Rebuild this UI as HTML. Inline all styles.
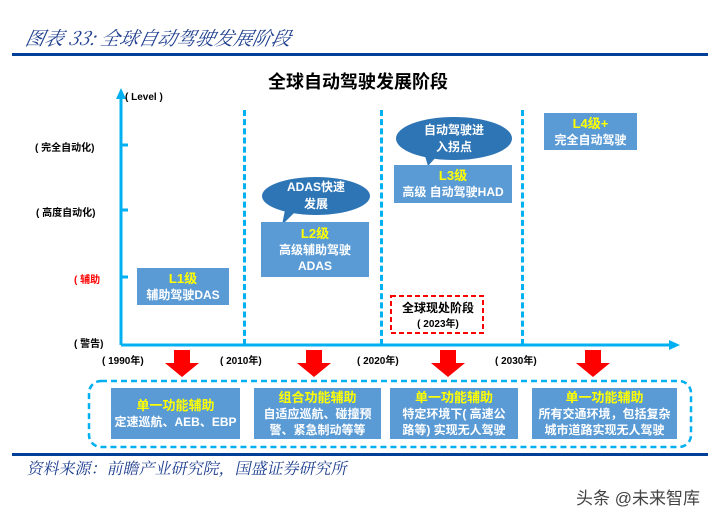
<!DOCTYPE html>
<html><head><meta charset="utf-8"><style>
body{margin:0;width:718px;height:517px;background:#fff;position:relative;overflow:hidden;font-family:"Liberation Sans","Noto Sans CJK SC",sans-serif}
.a{position:absolute}
.box{position:absolute;background:#5b9bd5;color:#fff;text-align:center;font-size:12px;line-height:16px;display:flex;flex-direction:column;justify-content:center;font-weight:bold}
.y{color:#ffff00;font-size:13px}
.lbl{position:absolute;font-size:10px;font-weight:bold;color:#000;white-space:nowrap}
.dash{position:absolute;width:0;border-left:3px dashed #00b0f0;top:110px;height:235px}
.bub{position:absolute;background:#2e75b6;border-radius:50%;color:#fff;font-size:12px;font-weight:bold;text-align:center;display:flex;flex-direction:column;justify-content:center;line-height:17px}
</style></head><body>
<div class="a" style="left:26px;top:24px;font-family:'Noto Serif CJK SC',serif;font-style:italic;font-size:19px;color:#1f3f8f;transform:skewX(-12deg)">图表 33:  全球自动驾驶发展阶段</div>
<div class="a" style="left:12px;top:53px;width:696px;height:3px;background:#003f98"></div>
<div class="a" style="left:268px;top:68px;font-size:18px;font-weight:bold">全球自动驾驶发展阶段</div>

<svg class="a" style="left:0;top:0" width="718" height="517">
<line x1="121" y1="345" x2="121" y2="97" stroke="#00b0f0" stroke-width="3"/>
<polygon points="121,88 116,99 126,99" fill="#00b0f0"/>
<line x1="121" y1="345" x2="672" y2="345" stroke="#00b0f0" stroke-width="3"/>
<polygon points="680,345 669,340 669,350" fill="#00b0f0"/>
<line x1="121" y1="145" x2="128" y2="145" stroke="#00b0f0" stroke-width="3"/>
<line x1="121" y1="210" x2="128" y2="210" stroke="#00b0f0" stroke-width="3"/>
<line x1="121" y1="277" x2="128" y2="277" stroke="#00b0f0" stroke-width="3"/>
<polygon points="285,210 295,212 282,225" fill="#2e75b6"/>
<polygon points="425,156 437,156 428,166" fill="#2e75b6"/>
<g fill="#ff0000">
<polygon points="174,350 190,350 190,363 199,363 182,377 165,363 174,363"/>
<polygon points="306,350 322,350 322,363 331,363 314,377 297,363 306,363"/>
<polygon points="440,350 456,350 456,363 465,363 448,377 431,363 440,363"/>
<polygon points="585,350 601,350 601,363 610,363 593,377 576,363 585,363"/>
</g>
<rect x="89" y="381" width="602" height="66" rx="12" fill="none" stroke="#00b0f0" stroke-width="2.5" stroke-dasharray="6,4"/>
<rect x="391" y="296" width="92" height="37" fill="none" stroke="#ff0000" stroke-width="2" stroke-dasharray="5,3"/>
</svg>
<div class="dash" style="left:243px"></div>
<div class="dash" style="left:380px"></div>
<div class="dash" style="left:521px"></div>

<div class="lbl" style="left:125px;top:92px">( Level )</div>
<div class="lbl" style="left:35px;top:139px">( 完全自动化)</div>
<div class="lbl" style="left:36px;top:204px">( 高度自动化)</div>
<div class="lbl" style="left:74px;top:271px;color:#ff0000">( 辅助</div>
<div class="lbl" style="left:74px;top:335px">( 警告)</div>
<div class="lbl" style="left:102px;top:352px">( 1990年)</div>
<div class="lbl" style="left:220px;top:352px">( 2010年)</div>
<div class="lbl" style="left:357px;top:352px">( 2020年)</div>
<div class="lbl" style="left:495px;top:352px">( 2030年)</div>

<div class="box" style="left:137px;top:268px;width:92px;height:37px"><span class="y">L1级</span>辅助驾驶DAS</div>
<div class="bub" style="left:262px;top:177px;width:108px;height:38px">ADAS快速<br>发展</div>
<div class="box" style="left:261px;top:222px;width:108px;height:55px"><span class="y">L2级</span>高级辅助驾驶<br>ADAS</div>
<div class="bub" style="left:396px;top:117px;width:116px;height:43px">自动驾驶进<br>入拐点</div>
<div class="box" style="left:394px;top:165px;width:118px;height:38px"><span class="y">L3级</span>高级 自动驾驶HAD</div>
<div class="box" style="left:544px;top:113px;width:93px;height:37px"><span class="y">L4级+</span>完全自动驾驶</div>
<div class="a" style="left:393px;top:301px;width:90px;text-align:center;font-size:12px;font-weight:bold;line-height:15px">全球现处阶段<br><span style="font-size:10px">( 2023年)</span></div>

<div class="box" style="left:111px;top:388px;width:129px;height:51px"><span class="y">单一功能辅助</span>定速巡航、AEB、EBP</div>
<div class="box" style="left:254px;top:388px;width:127px;height:51px"><span class="y">组合功能辅助</span>自适应巡航、碰撞预<br>警、紧急制动等等</div>
<div class="box" style="left:390px;top:388px;width:128px;height:51px"><span class="y">单一功能辅助</span>特定环境下( 高速公<br>路等) 实现无人驾驶</div>
<div class="box" style="left:532px;top:388px;width:145px;height:51px"><span class="y">单一功能辅助</span>所有交通环境，包括复杂<br>城市道路实现无人驾驶</div>

<div class="a" style="left:12px;top:453px;width:696px;height:3px;background:#003f98"></div>
<div class="a" style="left:28px;top:456px;font-family:'Noto Serif CJK SC',serif;font-size:16px;color:#1f3f8f;transform:skewX(-12deg)">资料来源：前瞻产业研究院，国盛证券研究所</div>
<div class="a" style="left:576px;top:484px;font-size:17px;color:#444">头条 @未来智库</div>
</body></html>
